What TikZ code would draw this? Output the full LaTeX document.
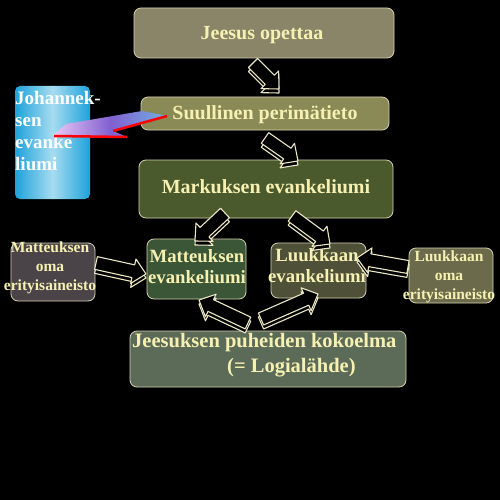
\documentclass[tikz,border=0pt]{standalone}
\usepackage{fontspec}
\setmainfont{Liberation Serif}
\usetikzlibrary{calc}
\definecolor{cream}{HTML}{F6F1B2}
\definecolor{boxline}{HTML}{D6D2B0}
\definecolor{arrline}{HTML}{ECE8C4}
\definecolor{cJeesus}{HTML}{8A8468}
\definecolor{cSuul}{HTML}{8A8A56}
\definecolor{cMark}{HTML}{4B5A2C}
\definecolor{cMatt}{HTML}{3B5636}
\definecolor{cLuuk}{HTML}{4E5038}
\definecolor{cMattO}{HTML}{4A4449}
\definecolor{cLuukO}{HTML}{6B6B4C}
\definecolor{cLogia}{HTML}{5B6B58}
\definecolor{cyanE}{HTML}{1EA2DA}
\definecolor{cyanM}{HTML}{A6DCF0}
\definecolor{ribL}{HTML}{E8C8F4}
\definecolor{ribM}{HTML}{8060D0}
\definecolor{ribR}{HTML}{70B0E4}
\newcommand\fntA{\bfseries\fontsize{20}{24}\selectfont}
\newcommand\fntB{\bfseries\fontsize{18.7}{21.5}\selectfont}
\newcommand\fntC{\bfseries\fontsize{15.5}{19}\selectfont}
\tikzset{
  box/.style={draw=boxline, line width=0.8pt, rounded corners=7pt, inner sep=0pt},
  txt/.style={inner sep=0pt, text=cream, align=center},
  arrowsty/.style={draw=arrline, fill=black, line width=1.1pt, line join=round}
}
\newcommand\arrshape[2]{%
  \filldraw[arrowsty] ($(#1)!6.5pt!90:(#2)$) -- ($(#2)!13pt!(#1)!6.5pt!-90:(#1)$)
    -- ($(#2)!13pt!(#1)!12.5pt!-90:(#1)$) -- (#2)
    -- ($(#2)!13pt!(#1)!12.5pt!90:(#1)$) -- ($(#2)!13pt!(#1)!6.5pt!90:(#1)$)
    -- ($(#1)!6.5pt!-90:(#2)$) -- cycle;}
\newcommand\blockarr[2]{%
  \begin{scope}[transform canvas={shift={(0pt,-4pt)}}]\arrshape{#1}{#2}\end{scope}
  \arrshape{#1}{#2}}
\begin{document}
\begin{tikzpicture}[x=1pt,y=-1pt]
\fill[black] (0,0) rectangle (500,500);
\useasboundingbox (0,0) rectangle (500,500);

% boxes
\node[box, fill=cJeesus, minimum width=260pt, minimum height=50pt] (jo) at (264,33) {};
\node[box, fill=cSuul, minimum width=248pt, minimum height=33pt] (su) at (265,113.5) {};
\node[box, fill=cMark, minimum width=254pt, minimum height=58pt] (ma) at (266,189) {};
\node[box, fill=cMatt, minimum width=99pt, minimum height=60pt] (mt) at (196.5,269) {};
\node[box, fill=cLuuk, minimum width=95pt, minimum height=55pt] (lk) at (318.5,270.5) {};
\node[box, fill=cMattO, minimum width=84pt, minimum height=58pt] (mto) at (53,272) {};
\node[box, fill=cLuukO, minimum width=84pt, minimum height=55pt] (lko) at (451,275.5) {};
\node[box, fill=cLogia, minimum width=276pt, minimum height=56pt] (lo) at (268,359) {};
\node[rounded corners=5pt, inner sep=0pt, left color=cyanE, right color=cyanE, middle color=cyanM,
      minimum width=75pt, minimum height=113pt] (jh) at (52.5,142.5) {};

% texts
\node[txt, font=\fntA, anchor=base] (jot) at (262,40) {Jeesus opettaa};
\node[txt, font=\fntA, anchor=base] (sut) at (265,120) {Suullinen perimätieto};
\node[txt, font=\fntA, anchor=base] (mat) at (266,193) {Markuksen evankeliumi};
\node[txt, font=\fntB, anchor=north] (mtt) at (197,249) {Matteuksen\\evankeliumi};
\node[txt, font=\fntB, anchor=north] (lkt) at (317,248) {Luukkaan\\evankeliumi};
\node[txt, font=\fntC, anchor=north] (mtot) at (50,242) {Matteuksen\\oma\\erityisaineisto};
\node[txt, font=\fntC, anchor=north] (lkot) at (449,250.5) {Luukkaan\\oma\\erityisaineisto};
\node[txt, anchor=north west, align=left, font={\bfseries\fontsize{20.5}{25}\selectfont}] (lot) at (132,333)
  {Jeesuksen puheiden kokoelma\\\hspace*{95pt}(= Logialähde)};
\node[inner sep=0pt, text=white, align=left, anchor=north west, font={\bfseries\fontsize{19}{22}\selectfont}] (jht) at (15,91)
  {Johannek-\\sen\\evanke\\liumi};

% ribbon from John to oral tradition
\coordinate (r1) at (54,134);
\coordinate (r2) at (66,124);
\coordinate (r3) at (142,111);
\coordinate (r4) at (167,116);
\coordinate (r5) at (113,131);
\coordinate (r6) at (127,137);
\coordinate (r7) at (54,136);
\shade[left color=ribL, right color=ribR, middle color=ribM]
  (r1) -- (r2) -- (r3) -- (r4) -- (r5) -- (r6) -- (r7) -- cycle;
\draw[red, line width=2.5pt] (r7) -- (r6);
\draw[red, line width=2.5pt] (r5) -- (r4);

% block arrows
\coordinate (a1s) at (253,63);  \coordinate (a1e) at (279,89);
\coordinate (a2s) at (265,138); \coordinate (a2e) at (298,161);
\coordinate (a3s) at (225,213); \coordinate (a3e) at (195,241);
\coordinate (a4s) at (292,216); \coordinate (a4e) at (330,244);
\coordinate (a5s) at (96,263);  \coordinate (a5e) at (146,274);
\coordinate (a6s) at (408,267); \coordinate (a6e) at (357,258);
\coordinate (a7s) at (248,323); \coordinate (a7e) at (199,300);
\coordinate (a8s) at (261,319); \coordinate (a8e) at (318,294);
\blockarr{a1s}{a1e}
\blockarr{a2s}{a2e}
\blockarr{a3s}{a3e}
\blockarr{a4s}{a4e}
\blockarr{a5s}{a5e}
\blockarr{a6s}{a6e}
\blockarr{a7s}{a7e}
\blockarr{a8s}{a8e}
\end{tikzpicture}
\end{document}
